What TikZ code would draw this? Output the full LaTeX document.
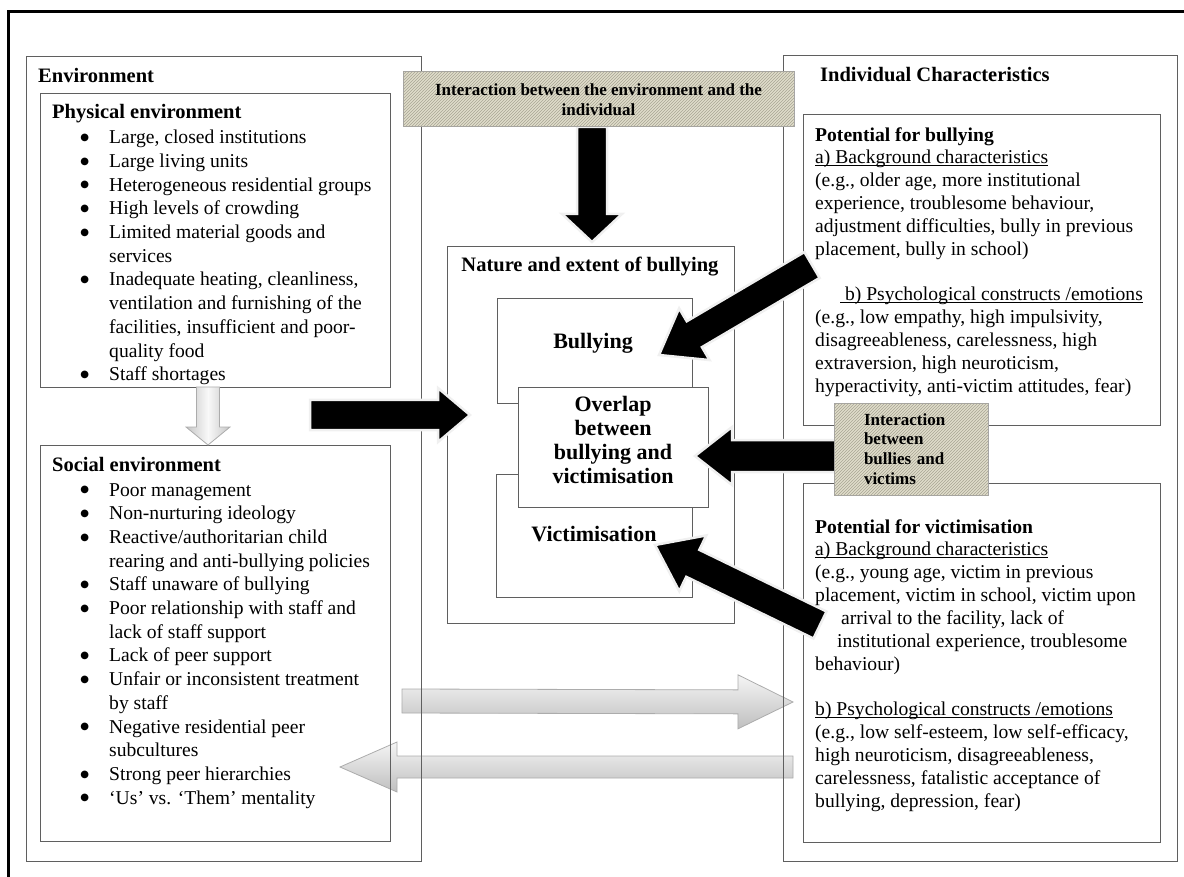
\documentclass[tikz,border=0pt]{standalone}
\usepackage{fontspec}
\setmainfont{Liberation Serif}
\newfontfamily\symfont{DejaVu Sans}
\usetikzlibrary{calc,patterns,positioning}

\definecolor{boxgray}{RGB}{95,95,95}
\definecolor{hatchfill}{RGB}{224,221,203}
\definecolor{hatchline}{RGB}{168,165,148}

\newcommand{\bul}{\llap{\raisebox{3.2pt}{\fontsize{10}{10}\selectfont\symfont ●}\hspace{20pt}}}
\newcommand{\uln}[1]{\underline{\smash{#1}}}
\newcommand{\blockarrow}[6][blackarrow]{%
  \coordinate (hb) at ($(#3)!#6!(#2)$);
  \path[#1] ($(#2)!#4!90:(#3)$) -- ($(hb)!#4!90:(#3)$) -- ($(hb)!#5!90:(#3)$) -- (#3)
    -- ($(hb)!#5!-90:(#3)$) -- ($(hb)!#4!-90:(#3)$) -- ($(#2)!#4!-90:(#3)$) -- cycle;}

\tikzset{
  box/.style={draw=boxgray, line width=1.2pt, anchor=north west, inner sep=0pt},
  hatchbox/.style={draw=gray!70, line width=1pt, fill=hatchfill,
    postaction={pattern=north east lines, pattern color=hatchline},
    font=\fontsize{17}{19.7}\selectfont\bfseries, inner sep=0pt},
  title/.style={anchor=north west, inner sep=0pt, font=\fontsize{20.5}{24}\selectfont\bfseries},
  listtext/.style={anchor=north west, inner sep=0pt, align=left, font=\fontsize{19.6}{23.7}\selectfont},
  righttext/.style={anchor=north west, inner sep=0pt, align=left, font=\fontsize{19.6}{22.85}\selectfont},
  bigtext/.style={inner sep=0pt, align=center, font=\fontsize{22}{23.7}\selectfont\bfseries},
  blackarrow/.style={fill=black, draw=gray!12, line width=2.5pt},
  grayarrow/.style={top color=gray!8, bottom color=gray!50, draw=gray!65, line width=0.8pt}
}

\begin{document}
\begin{tikzpicture}[x=1pt, y=-1pt]
  \useasboundingbox (0,0) rectangle (1184,877);
  \draw[line width=3pt] (8,877) -- (8,12) -- (1184,12);

  % wide grey arrows behind the boxes
  \coordinate (g1s) at (402,701);
  \coordinate (g1e) at (793,702);
  \coordinate (g2s) at (793,767);
  \coordinate (g2e) at (340,767);
  \blockarrow[grayarrow]{g1s}{g1e}{12pt}{27pt}{55pt}
  \blockarrow[grayarrow]{g2s}{g2e}{11pt}{25pt}{57pt}

  % environment
  \node[box, minimum width=395, minimum height=805] (env) at (26,56) {};
  \node[box, minimum width=350, minimum height=294] (phys) at (40,93) {};
  \node[box, minimum width=350, minimum height=396] (soc) at (40,445) {};
  \coordinate (g3s) at (208,387);
  \coordinate (g3e) at (208,445);
  \blockarrow[grayarrow, left color=gray!45, right color=gray!45, middle color=gray!5]{g3s}{g3e}{11.5pt}{22pt}{18pt}

  % bullying
  \node[box, minimum width=287, minimum height=377] (nature) at (447,246) {};
  \node[box, minimum width=195, minimum height=105] (bully) at (497,298) {};
  \node[box, minimum width=196, minimum height=123] (victim) at (496,474) {};
  \node[box, fill=white, minimum width=190, minimum height=120] (overlap) at (518,387) {};

  % individual
  \node[box, minimum width=394, minimum height=806] (indiv) at (783,55) {};
  \node[box, minimum width=357, minimum height=311] (potbul) at (803,114) {};
  \node[box, minimum width=357, minimum height=359] (potvic) at (803,483) {};

  % black arrows
  \coordinate (a1s) at (592,127);
  \coordinate (a1e) at (592,242);
  \coordinate (a2s) at (310,415);
  \coordinate (a2e) at (470,415);
  \coordinate (a3s) at (812,265);
  \coordinate (a3e) at (659,355);
  \coordinate (a4s) at (850,456);
  \coordinate (a4e) at (695,456);
  \coordinate (a5s) at (820,625);
  \coordinate (a5e) at (655,545);
  \blockarrow{a1s}{a1e}{15pt}{30pt}{28pt}
  \blockarrow{a2s}{a2e}{15pt}{27pt}{32pt}
  \blockarrow{a3s}{a3e}{15pt}{30pt}{41pt}
  \blockarrow{a4s}{a4e}{16pt}{29pt}{37pt}
  \blockarrow{a5s}{a5e}{15pt}{31pt}{42pt}

  % interaction boxes
  \node[hatchbox, minimum width=391, minimum height=55, align=center] (intenv) at (598.5,99.5)
    {Interaction between the environment and the\\individual};
  \node[hatchbox, minimum width=154, minimum height=92, text width=94, inner xsep=30, align=left] (intbv) at (911,449)
    {Interaction\\between\\bullies and\\victims};

  % texts
  \node[title] (envtitle) at (38,68) {Environment};
  \node[title] (phystitle) at (52,104) {Physical environment};
  \node[listtext] (physlist) at (109,130) {\bul Large, closed institutions\\
    \bul Large living units\\
    \bul Heterogeneous residential groups\\
    \bul High levels of crowding\\
    \bul Limited material goods and\\
    services\\
    \bul Inadequate heating, cleanliness,\\
    ventilation and furnishing of the\\
    facilities, insufficient and poor-\\
    quality food\\
    \bul Staff shortages};
  \node[title] (soctitle) at (52,457) {Social environment};
  \node[listtext] (soclist) at (109,483) {\bul Poor management\\
    \bul Non-nurturing ideology\\
    \bul Reactive/authoritarian child\\
    rearing and anti-bullying policies\\
    \bul Staff unaware of bullying\\
    \bul Poor relationship with staff and\\
    lack of staff support\\
    \bul Lack of peer support\\
    \bul Unfair or inconsistent treatment\\
    by staff\\
    \bul Negative residential peer\\
    subcultures\\
    \bul Strong peer hierarchies\\
    \bul `Us' vs. `Them' mentality};

  \node[title, anchor=center] (naturetitle) at (590,267) {Nature and extent of bullying};
  \node[bigtext] (bullytext) at (593,343) {Bullying};
  \node[bigtext] (overlaptext) at (613,440) {Overlap\\between\\bullying and\\victimisation};
  \node[bigtext] (victimtext) at (594,534) {Victimisation};

  \node[title] (indtitle) at (820,67) {Individual Characteristics};
  \node[righttext] (bultext) at (815,127) {\textbf{Potential for bullying}\\
    \uln{a) Background characteristics}\\
    (e.g., older age, more institutional\\
    experience, troublesome behaviour,\\
    adjustment difficulties, bully in previous\\
    placement, bully in school)\\
    ~\\
    \hspace*{25pt}\uln{\ b) Psychological constructs /emotions}\\
    (e.g., low empathy, high impulsivity,\\
    disagreeableness, carelessness, high\\
    extraversion, high neuroticism,\\
    hyperactivity, anti-victim attitudes, fear)};
  \node[righttext] (victext) at (815,519) {\textbf{Potential for victimisation}\\
    \uln{a) Background characteristics}\\
    (e.g., young age, victim in previous\\
    placement, victim in school, victim upon\\
    \hspace*{26pt}arrival to the facility, lack of\\
    \hspace*{22pt}institutional experience, troublesome\\
    behaviour)\\
    ~\\
    \uln{b) Psychological constructs /emotions}\\
    (e.g., low self-esteem, low self-efficacy,\\
    high neuroticism, disagreeableness,\\
    carelessness, fatalistic acceptance of\\
    bullying, depression, fear)};
\end{tikzpicture}
\end{document}
